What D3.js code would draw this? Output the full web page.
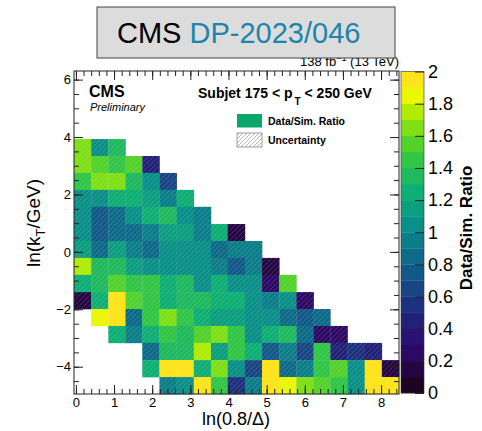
<!DOCTYPE html>
<html>
<head>
<meta charset="utf-8">
<script src="https://cdn.jsdelivr.net/npm/d3@7"></script>
<style>
  body { margin: 0; background: #fff; }
  text { font-family: "Liberation Sans", Arial, sans-serif; }
</style>
</head>
<body>
<svg id="lund" width="482" height="431"></svg>
<script>
// bin edges
var xEdges = [-0.05, 0.40, 0.85, 1.30, 1.74, 2.19, 2.64, 3.09, 3.54, 3.98, 4.43, 4.88, 5.33, 5.78, 6.23, 6.67, 7.12, 7.57, 8.02, 8.47]
var yEdges = [-4.95, -4.36, -3.77, -3.17, -2.58, -1.99, -1.40, -0.80, -0.21, 0.38, 0.97, 1.57, 2.16, 2.75, 3.34, 3.93]
var xTicks = [0, 1, 2, 3, 4, 5, 6, 7, 8]
var yTicks = [-4, -2, 0, 2, 4, 6]
var zTicks = [0, 0.2, 0.4, 0.6, 0.8, 1, 1.2, 1.4, 1.6, 1.8, 2]

// data/sim ratio, top kT row first, one value per ln(0.8/Delta) bin
var n = null
var ratio = [
  [1.65,1.05,1.35,n,n,n,n,n,n,n,n,n,n,n,n,n,n,n,n],
  [1.65,1.55,1.4,1.55,0.45,n,n,n,n,n,n,n,n,n,n,n,n,n,n],
  [1.45,1.6,1.6,1.35,1.05,0.65,n,n,n,n,n,n,n,n,n,n,n,n,n],
  [1.05,1.05,1.2,1.2,1.15,0.9,1.2,n,n,n,n,n,n,n,n,n,n,n,n],
  [1.0,0.7,0.8,1.05,1.2,1.3,1.05,0.9,n,n,n,n,n,n,n,n,n,n,n],
  [1.0,0.7,0.8,0.8,0.95,1.15,1.15,0.95,1.2,0.15,n,n,n,n,n,n,n,n,n],
  [1.1,0.8,1.1,0.9,0.8,1.0,1.0,1.0,0.8,0.9,0.95,n,n,n,n,n,n,n,n],
  [1.75,1.35,1.3,1.15,1.05,1.0,1.0,1.0,0.9,0.75,0.95,0.15,n,n,n,n,n,n,n],
  [1.2,1.35,1.55,1.4,1.45,1.2,1.3,1.0,1.25,1.05,1.0,0.2,1.5,n,n,n,n,n,n],
  [0.1,1.2,1.95,1.55,1.45,1.2,1.3,1.3,1.2,1.2,1.0,0.95,1.05,0.2,n,n,n,n,n],
  [n,1.85,1.95,0.8,1.45,1.6,1.4,1.25,1.15,1.1,1.0,1.0,0.8,0.7,0.85,n,n,n,n],
  [n,n,1.25,0.9,1.2,1.45,1.35,1.5,1.6,1.4,1.0,1.2,1.3,0.8,0.25,0.25,n,n,n],
  [n,n,n,n,0.85,1.3,1.3,1.75,1.1,1.4,1.25,0.75,0.95,0.65,1.4,0.45,0.5,0.45,n],
  [n,n,n,n,1.2,1.95,1.95,1.25,1.65,1.0,0.65,1.95,0.85,0.95,1.4,1.55,1.0,1.95,0.15],
  [n,n,n,n,n,0.9,1.05,1.95,1.45,0.5,0.9,1.95,1.85,1.65,1.5,1.45,1.05,1.95,1.95]
]

// ROOT kViridis, a bit more saturated like the picture
var pal0 = d3.scaleLinear()
  .domain([0, .125, .25, .375, .5, .625, .75, .875, 1])
  .range(['rgb(26,9,30)','rgb(51,24,96)','rgb(43,55,112)','rgb(33,87,118)','rgb(28,118,121)',
          'rgb(35,150,112)','rgb(74,180,82)','rgb(144,200,39)','rgb(246,222,33)'])
function pal(t){
  var c = d3.hsl(pal0(t))
  c.s = Math.min(1, c.s * 1.4)
  return c.formatHex()
}
function levelColor(v){
  var k = Math.max(0, Math.min(19, Math.floor(v / 0.1 + 1e-6)))
  return pal(k / 19)
}

var svg = d3.select('#lund')
var x = d3.scaleLinear().domain([-0.05, 8.47]).range([74, 399])
var y = d3.scaleLinear().domain([-4.95, 6.30]).range([394, 71])
var z = d3.scaleLinear().domain([0, 2]).range([393, 71.5])

var defs = svg.append('defs')
defs.append('pattern').attr('id','hatch').attr('patternUnits','userSpaceOnUse')
  .attr('width',5).attr('height',5)
  .append('path').attr('d','M-1,1 l2,-2 M0,5 l5,-5 M4,6 l2,-2')
  .attr('stroke','rgba(215,215,215,0.28)').attr('stroke-width',0.7)
defs.append('pattern').attr('id','hatchLeg').attr('patternUnits','userSpaceOnUse')
  .attr('width',4).attr('height',4)
  .append('path').attr('d','M-1,1 l2,-2 M0,4 l4,-4 M3,5 l2,-2')
  .attr('stroke','#999').attr('stroke-width',0.7)

// cells
var cells = []
var nRows = ratio.length
ratio.forEach(function(row, r){
  var yb = nRows - 1 - r
  row.forEach(function(v, c){
    if (v !== null) cells.push({x0: xEdges[c], x1: xEdges[c+1], y0: yEdges[yb], y1: yEdges[yb+1], v: v})
  })
})
var g = svg.append('g')
g.selectAll('rect.cell').data(cells).enter().append('rect')
  .attr('class','cell')
  .attr('x', d => x(d.x0)).attr('y', d => y(d.y1))
  .attr('width', d => x(d.x1) - x(d.x0) + 0.3).attr('height', d => y(d.y0) - y(d.y1) + 0.3)
  .attr('fill', d => levelColor(d.v))
g.selectAll('rect.hat').data(cells).enter().append('rect')
  .attr('class','hat')
  .attr('x', d => x(d.x0)).attr('y', d => y(d.y1))
  .attr('width', d => x(d.x1) - x(d.x0)).attr('height', d => y(d.y0) - y(d.y1))
  .attr('fill','url(#hatch)')

// axes
function minor(a, b, s){ var out = []; for (var t = a; t <= b + 1e-9; t += s) out.push(+t.toFixed(2)); return out }
function styleAxis(sel){
  sel.select('.domain').remove()
  sel.selectAll('line').attr('stroke','#222')
  sel.selectAll('text').attr('fill','#000').style('font-family','"Liberation Sans", Arial, sans-serif')
}
svg.append('g').attr('transform','translate(0,394)')
  .call(d3.axisBottom(x).tickValues(xTicks).tickSize(-9).tickPadding(4).tickFormat(d3.format('d')))
  .call(styleAxis).selectAll('text').style('font-size','13px')
svg.append('g').attr('transform','translate(0,394)')
  .call(d3.axisBottom(x).tickValues(minor(0, 8.4, 0.2)).tickSize(-5).tickFormat(''))
  .call(styleAxis)
svg.append('g').attr('transform','translate(0,71)')
  .call(d3.axisTop(x).tickValues(xTicks).tickSize(-9).tickFormat(''))
  .call(styleAxis)
svg.append('g').attr('transform','translate(0,71)')
  .call(d3.axisTop(x).tickValues(minor(0, 8.4, 0.2)).tickSize(-5).tickFormat(''))
  .call(styleAxis)
svg.append('g').attr('transform','translate(74,0)')
  .call(d3.axisLeft(y).tickValues(yTicks).tickSize(-9).tickPadding(3))
  .call(styleAxis).selectAll('text').style('font-size','13px')
svg.append('g').attr('transform','translate(74,0)')
  .call(d3.axisLeft(y).tickValues(minor(-4.5, 6, 0.5)).tickSize(-5).tickFormat(''))
  .call(styleAxis)
svg.append('g').attr('transform','translate(399,0)')
  .call(d3.axisRight(y).tickValues(yTicks).tickSize(-9).tickFormat(''))
  .call(styleAxis)
svg.append('g').attr('transform','translate(399,0)')
  .call(d3.axisRight(y).tickValues(minor(-4.5, 6, 0.5)).tickSize(-5).tickFormat(''))
  .call(styleAxis)
svg.append('rect').attr('x',74).attr('y',71).attr('width',325).attr('height',323)
  .attr('fill','none').attr('stroke','#222').attr('stroke-width',1)

// colour bar
var zLevels = d3.range(20)
svg.append('g').selectAll('rect').data(zLevels).enter().append('rect')
  .attr('x',401).attr('width',23)
  .attr('y', k => z((k + 1) * 0.1)).attr('height', k => z(k * 0.1) - z((k + 1) * 0.1) + 0.3)
  .attr('fill', k => pal(k / 19))
svg.append('rect').attr('x',401).attr('y',71.5).attr('width',23).attr('height',321.5)
  .attr('fill','none').attr('stroke','#333').attr('stroke-width',0.6)
svg.append('g').attr('transform','translate(424,0)')
  .call(d3.axisRight(z).tickValues(zTicks).tickSize(-9).tickPadding(4).tickFormat(d3.format('~g')))
  .call(styleAxis).selectAll('text').style('font-size','18px')
svg.append('text').attr('transform','translate(472,228) rotate(-90)')
  .attr('text-anchor','middle').style('font-size','17px').style('font-weight','bold')
  .text('Data/Sim. Ratio')

// axis titles
svg.append('text').attr('x',236).attr('y',425).attr('text-anchor','middle')
  .style('font-size','18px').text('ln(0.8/\u0394)')
var yt = svg.append('text').attr('transform','translate(40,223) rotate(-90)')
  .attr('text-anchor','middle').style('font-size','19px')
yt.append('tspan').text('ln(k')
yt.append('tspan').attr('dy',5).style('font-size','13px').text('T')
yt.append('tspan').attr('dy',-5).text('/GeV)')

// lumi label (partly under the header box)
var lumi = svg.append('text').attr('x',399).attr('y',66).attr('text-anchor','end').style('font-size','13px')
lumi.append('tspan').text('138 fb')
lumi.append('tspan').attr('dy',-5).style('font-size','9px').text('\u22121')
lumi.append('tspan').attr('dy',5).text(' (13 TeV)')

// header box
svg.append('rect').attr('x',97).attr('y',7).attr('width',298).attr('height',51)
  .attr('fill','#dcdcdc').attr('stroke','#444').attr('stroke-width',1)
var hdr = svg.append('text').attr('x',117).attr('y',43).style('font-size','29px')
hdr.append('tspan').attr('fill','#000').text('CMS ')
hdr.append('tspan').attr('fill','#1d84ad').text('DP-2023/046')

// in-frame labels
svg.append('text').attr('x',89).attr('y',97).style('font-size','16px').style('font-weight','bold').text('CMS')
svg.append('text').attr('x',90).attr('y',111).style('font-size','11px').style('font-style','italic').text('Preliminary')
var sub = svg.append('text').attr('x',198).attr('y',98).style('font-size','14px').style('font-weight','bold')
sub.append('tspan').text('Subjet 175 < p')
sub.append('tspan').attr('dx',2).attr('dy',7).style('font-size','10px').text('T')
sub.append('tspan').attr('dy',-7).text(' < 250 GeV')

// legend
svg.append('rect').attr('x',237).attr('y',114).attr('width',25).attr('height',13.5).attr('fill','#0aa66a')
svg.append('text').attr('x',268).attr('y',125).style('font-size','10.5px').style('font-weight','bold').text('Data/Sim. Ratio')
svg.append('rect').attr('x',237).attr('y',133).attr('width',25).attr('height',14)
  .attr('fill','url(#hatchLeg)').attr('stroke','#888').attr('stroke-width',0.8)
svg.append('text').attr('x',268).attr('y',144).style('font-size','10.5px').style('font-weight','bold').text('Uncertainty')
</script>
</body>
</html>
